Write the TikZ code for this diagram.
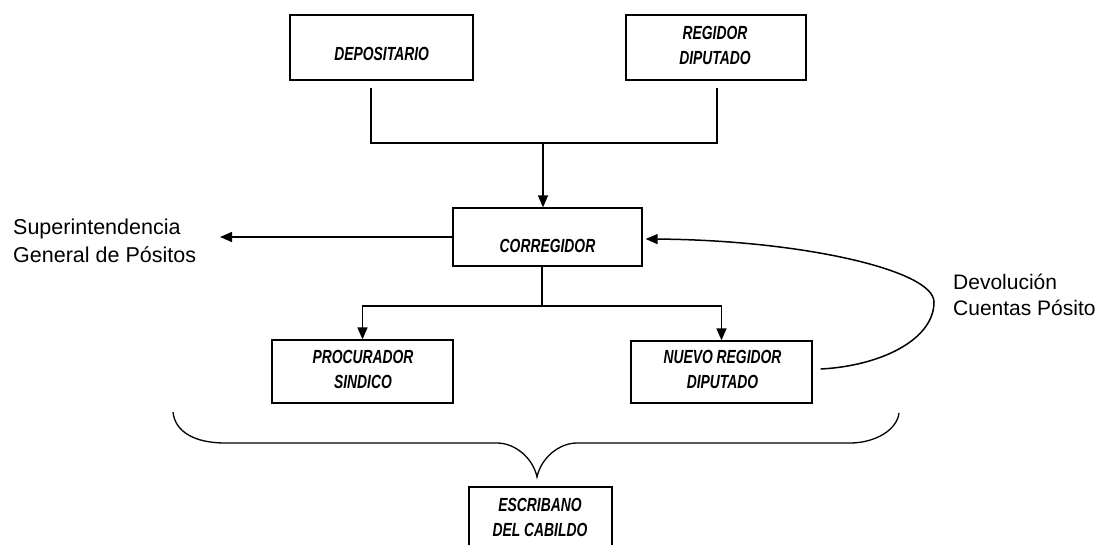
\documentclass[tikz,border=0pt]{standalone}
\usepackage{fontspec}
\setmainfont{Liberation Sans}
\newfontfamily\boxfont[FakeStretch=0.73]{Liberation Sans}
\usetikzlibrary{arrows.meta}
\begin{document}
\begin{tikzpicture}[x=1pt,y=-1pt,
  box/.style={draw, line width=1.3pt, inner sep=0pt},
  boxtext/.style={inner sep=0pt, align=center, font=\boxfont\bfseries\itshape\fontsize{19}{25}\selectfont},
  conn/.style={line width=1.5pt},
  arr/.style={conn, -{Triangle[length=12pt,width=10pt]}},
  side/.style={align=left, anchor=west, inner sep=0pt}]
\useasboundingbox (0,0) rectangle (1097,544);
\clip (0,0) rectangle (1097,544);
\fill[white] (0,0) rectangle (1097,544);

% boxes
\node[box, minimum width=183, minimum height=65] (dep) at (381.5,47.5) {};
\node[box, minimum width=180, minimum height=65] (reg) at (716,47.5) {};
\node[box, minimum width=189, minimum height=58] (cor) at (547.5,237) {};
\node[box, minimum width=181, minimum height=63] (pro) at (362.5,371.5) {};
\node[box, minimum width=181, minimum height=62] (nue) at (721.5,372) {};
\node[box, minimum width=143, minimum height=60] (esc) at (540.5,517) {};

% box texts
\node[boxtext] (depT) at (381.7,54) {DEPOSITARIO};
\node[boxtext] (regT) at (715,45) {REGIDOR\\DIPUTADO};
\node[boxtext] (corT) at (547.5,246) {CORREGIDOR};
\node[boxtext] (proT) at (363,369.5) {PROCURADOR\\SINDICO};
\node[boxtext] (nueT) at (722.5,369.5) {NUEVO REGIDOR\\DIPUTADO};
\node[boxtext] (escT) at (540,517) {ESCRIBANO\\DEL CABILDO};

% side labels
\node[side, font=\fontsize{21.5}{28}\selectfont] (supT) at (13,241) {Superintendencia\\General de Pósitos};
\node[side, font=\fontsize{21}{26}\selectfont] (devT) at (953,295) {Devolución\\Cuentas Pósito};

% connectors
\coordinate (j1) at (543,143);
\coordinate (j2) at (542,306);
\coordinate (supA) at (220,237);
\draw[conn] ([shift={(-10.5pt,-7pt)}]dep.south) |- (j1) -| ([shift={(1pt,-7pt)}]reg.south);
\draw[arr] (j1) -- (j1 |- cor.north);
\draw[arr] (cor.west) -- (supA);
\draw[conn] (j2 |- cor.south) -- (j2);
\draw[arr] (j2) -| (pro.north);
\draw[arr] (j2) -| (nue.north);
\draw[arr] ([shift={(8pt,3pt)}]nue.east) .. controls (880,366) and (934,340) .. (934,302)
  .. controls (934,270) and (800,240) .. ([shift={(3pt,-2pt)}]cor.east);

% brace
\draw[line width=1.3pt] (173,412) .. controls (175,432) and (195,443) .. (225,443) -- (497,443)
  .. controls (515,443) and (533,458) .. (537,477)
  .. controls (541,458) and (559,443) .. (577,443) -- (850,443)
  .. controls (875,443) and (897,430) .. (899,413);
\end{tikzpicture}
\end{document}
